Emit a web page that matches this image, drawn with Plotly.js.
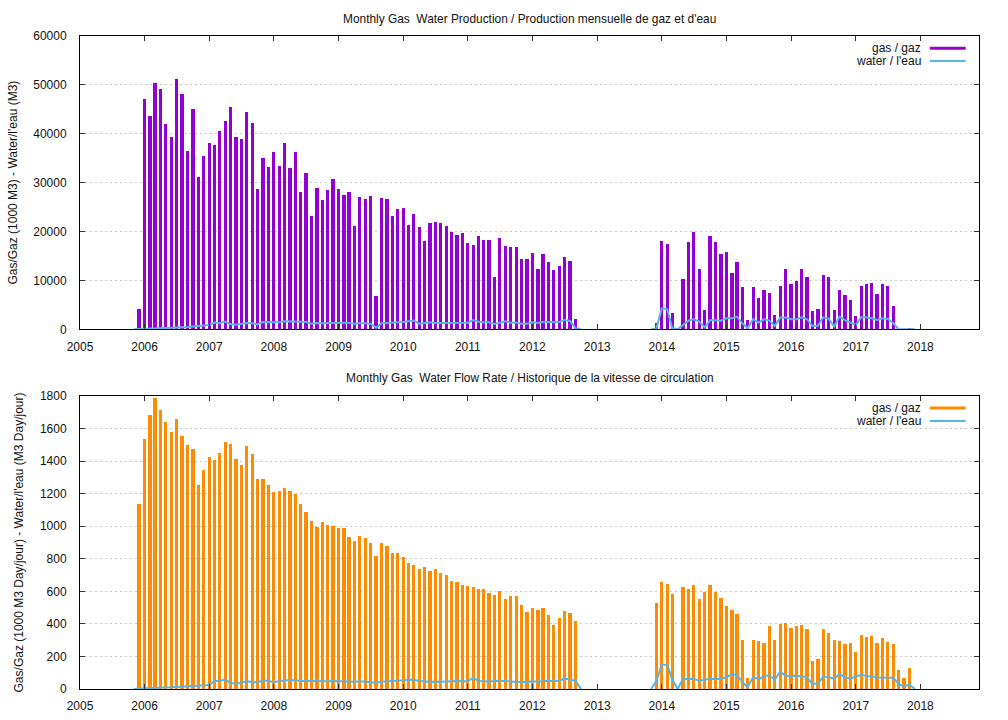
<!DOCTYPE html>
<html>
<head>
<meta charset="utf-8">
<script src="https://cdn.plot.ly/plotly-3.0.1.min.js"></script>
<style>html,body{margin:0;padding:0;background:#fff;}#chart{width:1008px;height:720px;}</style>
</head>
<body>
<div id="chart"></div>
<script>
// Period 1 months: 2005-11 .. 2012-10
const months1 = [
 '2005-11','2005-12',
 '2006-01','2006-02','2006-03','2006-04','2006-05','2006-06','2006-07','2006-08','2006-09','2006-10','2006-11','2006-12',
 '2007-01','2007-02','2007-03','2007-04','2007-05','2007-06','2007-07','2007-08','2007-09','2007-10','2007-11','2007-12',
 '2008-01','2008-02','2008-03','2008-04','2008-05','2008-06','2008-07','2008-08','2008-09','2008-10','2008-11','2008-12',
 '2009-01','2009-02','2009-03','2009-04','2009-05','2009-06','2009-07','2009-08','2009-09','2009-10','2009-11','2009-12',
 '2010-01','2010-02','2010-03','2010-04','2010-05','2010-06','2010-07','2010-08','2010-09','2010-10','2010-11','2010-12',
 '2011-01','2011-02','2011-03','2011-04','2011-05','2011-06','2011-07','2011-08','2011-09','2011-10','2011-11','2011-12',
 '2012-01','2012-02','2012-03','2012-04','2012-05','2012-06','2012-07','2012-08','2012-09','2012-10'
];
// Period 2 months: 2013-11 .. 2017-12
const months2 = [
 '2013-11','2013-12',
 '2014-01','2014-02','2014-03','2014-04','2014-05','2014-06','2014-07','2014-08','2014-09','2014-10','2014-11','2014-12',
 '2015-01','2015-02','2015-03','2015-04','2015-05','2015-06','2015-07','2015-08','2015-09','2015-10','2015-11','2015-12',
 '2016-01','2016-02','2016-03','2016-04','2016-05','2016-06','2016-07','2016-08','2016-09','2016-10','2016-11','2016-12',
 '2017-01','2017-02','2017-03','2017-04','2017-05','2017-06','2017-07','2017-08','2017-09','2017-10','2017-11','2017-12'
];

// Gas production (1000 M3), 2005-12 .. 2012-09
const gasProd1 = [4200,
 47200,43700,50400,49100,41900,39300,51300,48100,36400,45100,31200,35500,
 38200,37800,40500,42700,45400,39400,38900,44400,42300,28800,35100,33300,
 36300,33500,38200,33100,36300,28100,32000,23200,28900,26500,28500,30700,
 28700,27400,28100,21200,27100,26700,27250,6830,26840,26640,23220,24590,
 24720,21240,23500,20900,18100,21650,22000,21790,21040,19940,19330,19670,
 17690,17210,19060,18300,18300,10650,18710,17080,16870,16870,14410,14410,
 15570,12360,15440,13730,12230,12910,14890,14070,2050];
// Gas production, 2013-12 .. 2017-11
const gasProd2 = [1370,
 18030,17550,3420,0,10380,17830,19880,12360,3890,18990,17890,15440,
 15780,11540,13730,8610,1980,8670,6490,7990,7440,3000,8810,12290,
 9360,9900,12290,10650,3820,4100,11200,10650,3960,7990,6970,6080,
 2730,8810,9220,9560,7170,9360,8880,4780,150,100,200];

// Water production (M3), 2005-11 .. 2012-10
const waterProd1 = [0,30,
 70,140,140,140,200,200,340,410,480,550,610,750,
 890,1370,1230,1570,1020,960,1160,1300,1230,1020,1500,1430,
 1370,1430,1640,1570,1500,1430,1500,1160,1300,1230,1300,1370,
 1300,1370,1370,1090,1300,1230,1160,340,1230,1300,1300,1430,
 1500,1640,1780,1160,1300,1430,1300,1300,1300,1300,1430,1430,
 1370,1910,1570,1430,1430,1090,1370,1640,1370,1370,1160,1160,
 1430,1300,1500,1570,1500,1500,1910,1710,200,0];
// Water production, 2013-11 .. 2017-12
const waterProd2 = [0,100,
 4300,4100,200,0,900,1780,2050,1570,400,1900,1850,1780,
 2250,2250,2600,1230,200,2100,1370,2050,1780,680,2400,2400,
 2050,2050,2460,2050,680,750,2460,2190,550,2600,1900,1430,
 890,2460,2460,2250,1900,2250,2100,1230,0,0,0,0];

// Gas flow rate (1000 M3/day), 2005-12 .. 2012-09
const gasRate1 = [1135,
 1534,1685,1785,1715,1638,1581,1656,1552,1499,1472,1256,1348,
 1423,1405,1448,1519,1505,1411,1374,1491,1446,1293,1293,1252,
 1209,1215,1235,1219,1199,1135,1086,1035,997,1023,1005,1003,
 986,988,933,910,938,925,896,817,896,878,835,835,
 809,772,760,737,747,727,735,715,698,664,655,639,
 633,625,615,613,588,580,602,553,570,570,515,476,
 498,484,498,453,392,437,478,466,419];
// Gas flow rate, 2013-12 .. 2017-11
const gasRate2 = [529,
 655,647,584,0,625,615,641,553,594,639,596,560,
 511,484,461,304,67,298,294,284,388,302,400,404,
 376,388,394,366,169,182,366,343,304,296,276,284,
 227,329,317,327,280,312,290,278,118,69,131];

// Water flow rate (M3/day), 2005-11 .. 2012-10
const waterRate1 = [0,4,
 4,6,6,8,8,10,12,14,14,16,18,20,
 25,51,47,59,37,33,41,47,43,41,53,49,
 43,47,51,55,53,49,51,49,47,47,47,49,
 47,47,45,45,47,43,41,39,45,47,47,49,
 53,59,57,49,45,45,43,43,45,47,49,47,
 47,71,49,47,45,51,47,51,45,45,43,41,
 47,45,49,51,49,49,65,57,51,0];
// Water flow rate, 2013-11 .. 2017-12
const waterRate2 = [0,47,
 151,147,57,0,63,61,61,51,55,63,61,63,
 73,90,86,41,12,73,61,78,84,57,108,80,
 80,80,80,69,33,33,76,73,63,92,71,65,
 78,88,80,78,71,71,69,69,29,16,27,0];

const gasMonths1 = months1.slice(1, months1.length - 1);
const gasMonths2 = months2.slice(1, months2.length - 1);

const xTickYears = ['2005','2006','2007','2008','2009','2010','2011','2012','2013','2014','2015','2016','2017','2018'];

const titleTop = "Monthly Gas\u00a0 Water Production / Production mensuelle de gaz et d'eau";
const titleBottom = 'Monthly Gas\u00a0 Water Flow Rate / Historique de la vitesse de circulation';
const yTitleTop = "Gas/Gaz (1000 M3) - Water/l'eau (M3)";
const yTitleBottom = "Gas/Gaz (1000 M3 Day/jour) - Water/l'eau (M3 Day/jour)";
const legendGas = 'gas / gaz';
const legendWater = "water / l'eau";

const PURPLE = '#9400D3', ORANGE = '#FF8C00', BLUE = '#56B4E9';
const BARW = 1.6e9;
const FONT = 'Liberation Sans, Arial, Helvetica, sans-serif';

const traces = [
  {type:'bar', x: gasMonths1.concat(gasMonths2), y: gasProd1.concat(gasProd2),
   width: BARW, marker:{color: PURPLE, line:{width:0}}, xaxis:'x', yaxis:'y', showlegend:false},
  {type:'scatter', mode:'lines', x: months1.concat([null], months2), y: waterProd1.concat([null], waterProd2),
   line:{color: BLUE, width: 2}, connectgaps:false, xaxis:'x', yaxis:'y', showlegend:false},
  {type:'bar', x: gasMonths1.concat(gasMonths2), y: gasRate1.concat(gasRate2),
   width: BARW, marker:{color: ORANGE, line:{width:0}}, xaxis:'x2', yaxis:'y2', showlegend:false},
  {type:'scatter', mode:'lines', x: months1.concat([null], months2), y: waterRate1.concat([null], waterRate2),
   line:{color: BLUE, width: 2}, connectgaps:false, xaxis:'x2', yaxis:'y2', showlegend:false}
];

const xRange = ['2005-01-01', '2018-11-28'];
function xAxis(anchor){
  return {type:'date', range: xRange, tickvals: xTickYears.map(y => y + '-01-01'), ticktext: xTickYears,
    ticks:'inside', ticklen:5, tickcolor:'#333', showline:true, linecolor:'#000', linewidth:1, mirror:'allticks',
    showgrid:false, zeroline:false, anchor: anchor, ticklabelstandoff: 6,
    tickfont:{family: FONT, size: 12, color:'#111'}};
}
function yAxis(anchor, domain, range, dtick, title){
  return {domain: domain, range: range, dtick: dtick, tick0: 0, tickformat:'d', anchor: anchor,
    ticks:'inside', ticklen:5, tickcolor:'#333', showline:true, linecolor:'#000', linewidth:1, mirror:'allticks',
    showgrid:true, gridcolor:'#c8c8c8', gridwidth:1, griddash:'2px,3px', zeroline:false,
    ticklabelstandoff: 10,
    tickfont:{family: FONT, size: 12, color:'#111'},
    title:{text: title, font:{family: FONT, size: 12, color:'#111'}, standoff: 13}};
}

const legendTextX = 0.9374, legendLineX0 = 0.9455, legendLineX1 = 0.9852;
const legTop = [0.9812, 0.9617], legBot = [0.4303, 0.4104];

function legendText(t, y){
  return {text: t, xref:'paper', yref:'paper', x: legendTextX, y: y, xanchor:'right', yanchor:'middle',
    showarrow:false, font:{family: FONT, size: 12, color:'#111'}};
}
function legendLine(y, color, w){
  return {type:'line', xref:'paper', yref:'paper', x0: legendLineX0, x1: legendLineX1, y0: y, y1: y,
    line:{color: color, width: w}};
}

const layout = {
  width: 1008, height: 720,
  margin: {l: 80, r: 29, t: 36, b: 31},
  paper_bgcolor:'#fff', plot_bgcolor:'#fff',
  font: {family: FONT, size: 12, color:'#111'},
  barmode:'overlay', bargap: 0,
  showlegend:false,
  xaxis: xAxis('y'),
  yaxis: yAxis('x', [0.5508, 1], [0, 60000], 10000, yTitleTop),
  xaxis2: xAxis('y2'),
  yaxis2: yAxis('x2', [0, 0.4487], [0, 1800], 200, yTitleBottom),
  annotations: [
    {text: titleTop, xref:'paper', yref:'paper', x:0.5, y:1.026, xanchor:'center', yanchor:'middle', showarrow:false,
     font:{family: FONT, size: 11.9, color:'#111'}},
    {text: titleBottom, xref:'paper', yref:'paper', x:0.5, y:0.476, xanchor:'center', yanchor:'middle', showarrow:false,
     font:{family: FONT, size: 11.9, color:'#111'}},
    legendText(legendGas, legTop[0]), legendText(legendWater, legTop[1]),
    legendText(legendGas, legBot[0]), legendText(legendWater, legBot[1])
  ],
  shapes: [
    legendLine(legTop[0], PURPLE, 3), legendLine(legTop[1], BLUE, 2),
    legendLine(legBot[0], ORANGE, 3), legendLine(legBot[1], BLUE, 2)
  ]
};

Plotly.newPlot('chart', traces, layout, {staticPlot:true, displayModeBar:false});
</script>
</body>
</html>
